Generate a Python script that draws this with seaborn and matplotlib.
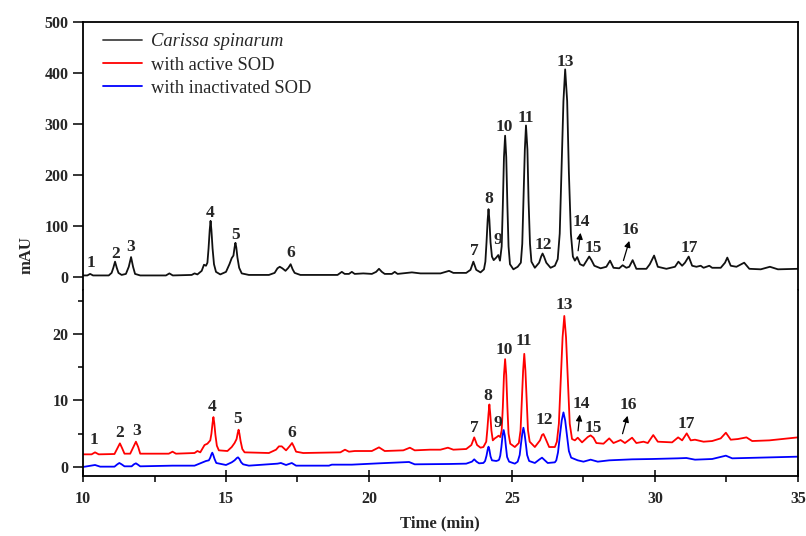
import numpy as np
import matplotlib
matplotlib.use("Agg")
import matplotlib.pyplot as plt
import seaborn as sns

# chromatogram traces: (time in min, absorbance in mAU)
black = [(10.0, 3), (10.15, 3), (10.25, 6), (10.35, 3), (10.9, 3), (11.0, 8), (11.06, 18), (11.12, 30),
         (11.18, 18), (11.24, 8), (11.35, 4), (11.5, 6), (11.6, 20), (11.68, 39), (11.75, 20), (11.82, 6),
         (12.0, 3), (12.9, 3), (13.02, 7), (13.14, 3), (13.8, 4), (13.9, 7), (14.0, 5), (14.15, 12),
         (14.23, 24), (14.3, 22), (14.35, 28), (14.39, 56), (14.43, 92), (14.46, 110), (14.49, 92),
         (14.53, 56), (14.58, 25), (14.65, 10), (14.8, 5), (15.0, 10), (15.12, 25), (15.2, 37), (15.26, 42),
         (15.3, 58), (15.33, 67), (15.36, 58), (15.4, 38), (15.46, 18), (15.55, 7), (15.8, 4), (16.5, 4),
         (16.7, 8), (16.8, 17), (16.88, 20), (16.97, 17), (17.08, 12), (17.18, 18), (17.26, 25), (17.33, 15),
         (17.4, 8), (17.6, 4), (18.5, 4), (18.9, 4), (19.05, 10), (19.15, 6), (19.3, 6), (19.4, 10),
         (19.5, 6), (19.8, 7), (20.1, 6), (20.25, 10), (20.35, 16), (20.45, 10), (20.55, 6), (20.8, 6),
         (20.9, 10), (21.0, 6), (21.5, 9), (21.8, 7), (22.5, 7), (22.8, 12), (22.95, 8), (23.4, 8),
         (23.55, 14), (23.65, 30), (23.75, 14), (23.9, 9), (24.02, 15), (24.07, 30), (24.11, 68),
         (24.15, 112), (24.18, 133), (24.21, 112), (24.25, 68), (24.3, 40), (24.36, 33), (24.45, 38),
         (24.52, 43), (24.58, 32), (24.64, 60), (24.68, 140), (24.72, 235), (24.76, 277), (24.8, 235),
         (24.84, 140), (24.88, 60), (24.93, 25), (25.05, 15), (25.2, 20), (25.31, 28), (25.36, 65),
         (25.4, 150), (25.45, 250), (25.49, 297), (25.54, 250), (25.58, 150), (25.63, 65), (25.68, 30),
         (25.8, 18), (25.95, 28), (26.02, 40), (26.07, 46), (26.12, 40), (26.2, 28), (26.35, 18),
         (26.5, 22), (26.6, 35), (26.67, 85), (26.73, 205), (26.8, 345), (26.86, 407), (26.93, 345),
         (26.99, 205), (27.06, 85), (27.13, 40), (27.2, 32), (27.28, 39), (27.38, 25), (27.5, 22),
         (27.62, 33), (27.7, 40), (27.78, 33), (27.88, 22), (28.1, 17), (28.3, 20), (28.43, 32),
         (28.55, 18), (28.75, 17), (28.87, 23), (29.0, 18), (29.1, 20), (29.22, 33), (29.35, 16),
         (29.7, 16), (29.82, 25), (29.97, 42), (30.1, 20), (30.4, 16), (30.7, 20), (30.82, 30),
         (30.95, 22), (31.05, 28), (31.18, 40), (31.3, 22), (31.45, 20), (31.6, 22), (31.7, 18),
         (31.9, 22), (32.0, 18), (32.3, 18), (32.45, 28), (32.53, 38), (32.65, 22), (32.85, 20),
         (33.12, 28), (33.3, 16), (33.7, 15), (34.02, 20), (34.3, 15), (35.0, 16)]

red = [(10.0, 1.9), (10.3, 1.9), (10.42, 2.2), (10.55, 1.9), (11.1, 1.95), (11.2, 2.8), (11.29, 3.55),
       (11.37, 2.8), (11.45, 2.0), (11.65, 2.0), (11.76, 3.0), (11.85, 3.8), (11.93, 3.0), (12.0, 2.0),
       (13.0, 2.0), (13.13, 2.3), (13.25, 2.0), (13.9, 2.1), (14.0, 2.4), (14.1, 2.2), (14.25, 3.3),
       (14.35, 3.5), (14.45, 4.0), (14.49, 5.0), (14.53, 6.6), (14.56, 7.5), (14.59, 6.6), (14.63, 4.8),
       (14.68, 3.2), (14.75, 2.5), (15.05, 2.4), (15.2, 3.0), (15.3, 3.6), (15.37, 4.2), (15.41, 5.1),
       (15.44, 5.6), (15.47, 5.0), (15.51, 3.9), (15.57, 2.7), (15.65, 2.2), (16.5, 2.1), (16.75, 2.6),
       (16.85, 3.1), (16.95, 3.1), (17.1, 2.5), (17.22, 3.1), (17.31, 3.6), (17.38, 3.0), (17.45, 2.3),
       (17.7, 2.1), (19.0, 2.2), (19.16, 2.6), (19.3, 2.3), (19.5, 2.4), (20.1, 2.4), (20.35, 2.95),
       (20.55, 2.4), (21.2, 2.5), (21.43, 2.9), (21.6, 2.5), (22.13, 2.6), (22.5, 2.6), (22.76, 2.9),
       (22.95, 2.6), (23.4, 2.7), (23.58, 3.3), (23.68, 4.45), (23.78, 3.3), (23.9, 2.9), (24.0, 3.0),
       (24.1, 3.8), (24.14, 5.7), (24.18, 8.0), (24.21, 9.4), (24.24, 8.0), (24.28, 5.5), (24.33, 4.0),
       (24.4, 4.3), (24.47, 4.5), (24.53, 4.7), (24.59, 4.5), (24.64, 5.5), (24.68, 9.0), (24.72, 13.8),
       (24.76, 16.2), (24.8, 13.8), (24.84, 9.0), (24.88, 5.0), (24.94, 3.5), (25.1, 3.0), (25.24, 3.6),
       (25.3, 5.5), (25.34, 9.5), (25.39, 14.5), (25.43, 17.0), (25.47, 14.5), (25.52, 9.5), (25.56, 5.5),
       (25.62, 3.8), (25.8, 3.0), (25.98, 4.0), (26.05, 4.8), (26.1, 4.95), (26.16, 4.4), (26.3, 3.0),
       (26.5, 3.0), (26.57, 3.8), (26.64, 6.5), (26.7, 12.5), (26.77, 19.5), (26.83, 22.7), (26.89, 19.5),
       (26.96, 12.5), (27.02, 6.5), (27.1, 4.2), (27.2, 4.0), (27.3, 4.4), (27.45, 3.7), (27.65, 4.5),
       (27.75, 4.75), (27.85, 4.4), (27.95, 3.6), (28.2, 3.5), (28.4, 4.3), (28.55, 3.6), (28.8, 4.05),
       (28.95, 3.6), (29.2, 4.4), (29.35, 3.6), (29.6, 3.8), (29.75, 3.6), (29.94, 4.8), (30.1, 3.8),
       (30.6, 3.7), (30.81, 4.45), (30.95, 4.0), (31.11, 5.05), (31.25, 4.0), (31.4, 4.1), (31.7, 3.8),
       (32.0, 3.9), (32.3, 4.3), (32.48, 5.15), (32.65, 4.1), (32.9, 4.2), (33.2, 4.45), (33.4, 3.9),
       (34.0, 4.0), (35.0, 4.45)]

blue = [(10.0, 0.0), (10.42, 0.3), (10.6, 0.05), (11.1, 0.05), (11.2, 0.4), (11.27, 0.6), (11.35, 0.4),
        (11.45, 0.1), (11.7, 0.1), (11.78, 0.4), (11.85, 0.55), (11.92, 0.35), (12.0, 0.1), (13.13, 0.2),
        (13.9, 0.2), (14.3, 0.9), (14.4, 1.0), (14.45, 1.4), (14.49, 1.9), (14.52, 2.15), (14.55, 1.85),
        (14.6, 1.2), (14.66, 0.6), (15.0, 0.3), (15.2, 0.7), (15.3, 1.0), (15.38, 1.35), (15.42, 1.45),
        (15.47, 1.2), (15.53, 0.7), (15.6, 0.4), (15.8, 0.2), (16.8, 0.5), (16.92, 0.6), (17.1, 0.3),
        (17.3, 0.6), (17.45, 0.2), (18.6, 0.2), (18.7, 0.35), (19.4, 0.35), (20.35, 0.55), (21.4, 0.75),
        (21.6, 0.4), (22.8, 0.45), (23.4, 0.5), (23.6, 0.8), (23.68, 1.15), (23.76, 0.8), (23.85, 0.55),
        (24.0, 0.6), (24.06, 0.9), (24.11, 1.7), (24.15, 2.6), (24.18, 3.05), (24.21, 2.6), (24.25, 1.6),
        (24.3, 1.0), (24.45, 0.9), (24.52, 1.0), (24.55, 1.1), (24.59, 1.7), (24.63, 3.0), (24.67, 4.7),
        (24.71, 5.55), (24.75, 4.7), (24.79, 3.0), (24.83, 1.5), (24.9, 0.8), (25.1, 0.5), (25.2, 0.8),
        (25.27, 1.8), (25.31, 3.3), (25.36, 5.0), (25.4, 5.9), (25.44, 5.0), (25.49, 3.3), (25.53, 1.8),
        (25.6, 0.9), (25.8, 0.6), (25.95, 1.1), (26.05, 1.4), (26.15, 1.0), (26.25, 0.6), (26.5, 0.7),
        (26.55, 1.0), (26.61, 2.2), (26.67, 4.5), (26.74, 7.0), (26.8, 8.2), (26.86, 7.0), (26.93, 4.5),
        (26.99, 2.4), (27.07, 1.4), (27.3, 1.0), (27.5, 0.8), (27.75, 1.1), (28.0, 0.8), (28.4, 1.0),
        (29.2, 1.15), (29.9, 1.2), (30.8, 1.3), (31.1, 1.35), (31.4, 1.1), (32.0, 1.2), (32.48, 1.7),
        (32.7, 1.3), (35.0, 1.55)]

# peak numbers and where they are written
peak_ids = [str(i) for i in range(1, 18)]
top_lab_t = [10.28, 11.15, 11.68, 14.44, 15.35, 17.27, 23.67, 24.2, 24.51, 24.72, 25.49,
             26.08, 26.85, 27.41, 27.83, 29.13, 31.19]
top_lab_v = [27, 45, 59, 125, 82, 47, 51, 153, 72, 294, 312, 63, 422, 108, 57, 92, 57]
bot_lab_t = [10.38, 11.29, 11.89, 14.51, 15.42, 17.31, 23.67, 24.16, 24.51, 24.72, 25.42,
             26.12, 26.82, 27.41, 27.83, 29.06, 31.08]
bot_lab_v = [4.1, 5.1, 5.4, 9.0, 7.2, 5.1, 5.9, 10.7, 6.6, 17.6, 18.9, 7.0, 24.4,
             9.5, 5.9, 9.3, 6.5]
# arrows for peaks 14 and 16: (tail t, tail v, head t, head v)
top_arrows = [(27.30, 46, 27.41, 92), (28.87, 27, 29.13, 76)]
bot_arrows = [(27.30, 5.0, 27.38, 8.3), (28.84, 4.6, 29.07, 8.1)]

black_t, black_v = zip(*black)
red_t, red_v = zip(*red)
blue_t, blue_v = zip(*blue)

sns.set_style("ticks")
plt.rcParams["font.family"] = ["Liberation Serif", "DejaVu Serif"]

fig = plt.figure(figsize=(8.06, 5.36), dpi=100)
ax_top = fig.add_axes([0.103, 0.459, 0.887, 0.500])
ax_bot = fig.add_axes([0.103, 0.112, 0.887, 0.347])

sns.lineplot(x=list(black_t), y=list(black_v), ax=ax_top, color="#111111", lw=1.3,
             label="Carissa spinarum", estimator=None)
sns.lineplot(x=list(red_t), y=list(red_v), ax=ax_bot, color="#ff0000", lw=1.3,
             label="with active SOD", estimator=None)
sns.lineplot(x=list(blue_t), y=list(blue_v), ax=ax_bot, color="#0000ff", lw=1.3,
             label="with inactivated SOD", estimator=None)

lab_font = dict(fontsize=12.5, fontweight="bold", ha="center", va="center")
for pid, t, v in zip(peak_ids, top_lab_t, top_lab_v):
    ax_top.text(t, v, pid, **lab_font)
for pid, t, v in zip(peak_ids, bot_lab_t, bot_lab_v):
    ax_bot.text(t, v, pid, **lab_font)
arrow_style = dict(arrowstyle="-|>", color="black", lw=0.9, mutation_scale=9)
for x0, y0, x1, y1 in top_arrows:
    ax_top.annotate("", xy=(x1, y1), xytext=(x0, y0), arrowprops=arrow_style)
for x0, y0, x1, y1 in bot_arrows:
    ax_bot.annotate("", xy=(x1, y1), xytext=(x0, y0), arrowprops=arrow_style)

for ax in (ax_top, ax_bot):
    ax.set_xlim(10, 35)
    ax.set_xlabel("")
    ax.set_ylabel("")
    for s in ax.spines.values():
        s.set_linewidth(1.3)
        s.set_color("black")
    ax.tick_params(axis="y", which="major", direction="out", length=7, width=1.3,
                   labelsize=11.5)
    ax.tick_params(axis="y", which="minor", direction="out", length=3.5, width=1.3)

ax_top.set_ylim(-25.5, 500)
ax_top.set_yticks([0, 100, 200, 300, 400, 500])
ax_top.spines["bottom"].set_visible(False)
ax_top.tick_params(axis="x", which="both", bottom=False, labelbottom=False)

ax_bot.set_ylim(-1.35, 26.6)
ax_bot.set_yticks([0, 10, 20])
ax_bot.set_yticks([5, 15, 25], minor=True)
ax_bot.spines["top"].set_visible(False)
ax_bot.set_xticks(np.arange(10, 36, 5))
ax_bot.set_xticks(np.arange(12.5, 35, 5), minor=True)
ax_bot.tick_params(axis="x", which="major", direction="inout", length=9, width=1.3,
                   labelsize=11.5, pad=6)
ax_bot.tick_params(axis="x", which="minor", direction="out", length=4, width=1.3)
for lbl in ax_top.get_yticklabels() + ax_bot.get_yticklabels() + ax_bot.get_xticklabels():
    lbl.set_fontweight("bold")

ax_bot.get_legend().remove()
handles = ax_top.get_legend_handles_labels()[0] + ax_bot.get_legend_handles_labels()[0]
labels = ["Carissa spinarum", "with active SOD", "with inactivated SOD"]
leg = ax_top.legend(handles, labels, loc="upper left", bbox_to_anchor=(0.028, 0.957),
                    frameon=False, fontsize=13.3, handlelength=2.1, handletextpad=0.5,
                    labelspacing=0.33, borderpad=0, borderaxespad=0)
leg.get_texts()[0].set_style("italic")
leg.get_lines()[0].set_color("#444444")

fig.text(440 / 806, 1 - 523 / 536, "Time (min)", ha="center", va="center",
         fontsize=12, fontweight="bold")
fig.text(27 / 806, 1 - 255 / 536, "mAU", ha="center", va="center", rotation=90,
         fontsize=12, fontweight="bold")

fig.savefig("out.png", dpi=100)
